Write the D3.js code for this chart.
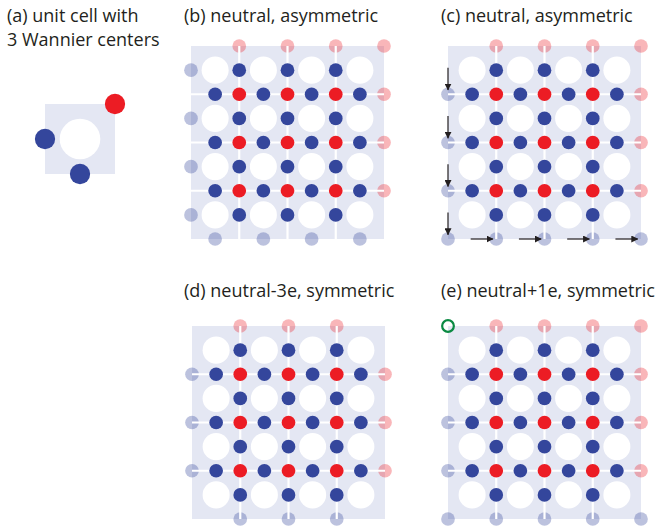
<!DOCTYPE html>
<html>
<head>
    <title>Wannier centers</title>
    <script src="https://d3js.org/d3.v7.min.js"></script>
    <style>
        body { margin: 0; background: #fff; }
        svg text { font-family: "Open Sans", sans-serif; font-size: 18px; fill: #231f20; }
    </style>
</head>
<body>
    <div id="chart"></div>
    <script>
        const width = 661, height = 527;

        // lattice data, in cell units (x to the right, y downward)
        const cells = [0, 1, 2, 3];
        const inner = [1, 2, 3];
        // unit cell of panel (a): red on top-right corner, blue on left and bottom edges
        const unitRed = [[1, 0]];
        const unitBlue = [[0, 0.5], [0.5, 1]];

        const panels = [
            { id: "b", title: "(b) neutral, asymmetric", x: 191, y: 46, tx: 184, ty: 22,
              faintRed: [[1,0],[2,0],[3,0],[4,0],[4,1],[4,2],[4,3]],
              faintBlue: [[0,0.5],[0,1.5],[0,2.5],[0,3.5],[0.5,4],[1.5,4],[2.5,4],[3.5,4]],
              arrows: [], holes: [] },
            { id: "c", title: "(c) neutral, asymmetric", x: 448, y: 46, tx: 441, ty: 22,
              faintRed: [[1,0],[2,0],[3,0],[4,0],[4,1],[4,2],[4,3]],
              faintBlue: [[0,1],[0,2],[0,3],[0,4],[1,4],[2,4],[3,4],[4,4]],
              arrows: [[0,0.45,0,0.91],[0,1.45,0,1.91],[0,2.45,0,2.91],[0,3.45,0,3.91],
                       [0.47,4,0.93,4],[1.47,4,1.93,4],[2.47,4,2.93,4],[3.47,4,3.93,4]],
              holes: [] },
            { id: "d", title: "(d) neutral-3e, symmetric", x: 192, y: 326, tx: 184, ty: 297,
              faintRed: [[1,0],[2,0],[3,0],[4,1],[4,2],[4,3]],
              faintBlue: [[0,1],[0,2],[0,3],[1,4],[2,4],[3,4]],
              arrows: [], holes: [] },
            { id: "e", title: "(e) neutral+1e, symmetric", x: 448, y: 326, tx: 441, ty: 297,
              faintRed: [[1,0],[2,0],[3,0],[4,0],[4,1],[4,2],[4,3]],
              faintBlue: [[0,1],[0,2],[0,3],[0,4],[1,4],[2,4],[3,4],[4,4]],
              arrows: [], holes: [[0,0]] }
        ];

        const size = 193;
        const blue = "#34469c", red = "#ec1c24", bg = "#e4e7f3";

        const svg = d3.select("#chart").append("svg")
            .attr("width", width).attr("height", height);

        svg.append("defs").append("marker")
            .attr("id", "arrow").attr("viewBox", "0 0 10 10")
            .attr("refX", 9).attr("refY", 5)
            .attr("markerWidth", 7).attr("markerHeight", 7)
            .attr("markerUnits", "userSpaceOnUse")
            .attr("orient", "auto")
            .append("path").attr("d", "M0,0 L10,5 L0,10 z").attr("fill", "#231f20");

        // panel (a)
        const a = svg.append("g");
        a.append("text").attr("x", 7).attr("y", 22).text("(a) unit cell with");
        a.append("text").attr("x", 7).attr("y", 46).text("3 Wannier centers");
        const ax = d3.scaleLinear().domain([0, 1]).range([45, 115]);
        const ay = d3.scaleLinear().domain([0, 1]).range([104, 174]);
        const ua = 70;
        a.append("rect").attr("x", ax(0)).attr("y", ay(0))
            .attr("width", ax(1) - ax(0)).attr("height", ay(1) - ay(0)).attr("fill", bg);
        a.append("circle").attr("cx", ax(0.5)).attr("cy", ay(0.5)).attr("r", 0.29 * ua).attr("fill", "#fff");
        a.selectAll(".r").data(unitRed).join("circle")
            .attr("cx", d => ax(d[0])).attr("cy", d => ay(d[1])).attr("r", 0.145 * ua).attr("fill", red);
        a.selectAll(".b").data(unitBlue).join("circle")
            .attr("cx", d => ax(d[0])).attr("cy", d => ay(d[1])).attr("r", 0.145 * ua).attr("fill", blue);

        panels.forEach(p => {
            const g = svg.append("g").attr("class", "panel-" + p.id);
            const x = d3.scaleLinear().domain([0, 4]).range([p.x, p.x + size]);
            const y = d3.scaleLinear().domain([0, 4]).range([p.y, p.y + size]);
            const u = size / 4;
            const dotR = 0.142 * u, holeR = 0.28 * u;

            g.append("text").attr("x", p.tx).attr("y", p.ty).text(p.title);

            g.append("rect").attr("x", x(0)).attr("y", y(0))
                .attr("width", size).attr("height", size).attr("fill", bg);

            g.selectAll(".fr").data(p.faintRed).join("circle")
                .attr("cx", d => x(d[0])).attr("cy", d => y(d[1])).attr("r", dotR)
                .attr("fill", red).attr("fill-opacity", 0.32);
            g.selectAll(".fb").data(p.faintBlue).join("circle")
                .attr("cx", d => x(d[0])).attr("cy", d => y(d[1])).attr("r", dotR)
                .attr("fill", blue).attr("fill-opacity", 0.33);

            // white cell boundaries
            g.selectAll(".vl").data(inner).join("line")
                .attr("x1", d => x(d)).attr("x2", d => x(d))
                .attr("y1", y(0)).attr("y2", y(4))
                .attr("stroke", "#fff").attr("stroke-width", 2.2);
            g.selectAll(".hl").data(inner).join("line")
                .attr("y1", d => y(d)).attr("y2", d => y(d))
                .attr("x1", x(0)).attr("x2", x(4))
                .attr("stroke", "#fff").attr("stroke-width", 2.2);

            // white holes at cell centres
            const centres = d3.cross(cells, cells);
            g.selectAll(".hole").data(centres).join("circle")
                .attr("cx", d => x(d[0] + 0.5)).attr("cy", d => y(d[1] + 0.5))
                .attr("r", holeR).attr("fill", "#fff");

            // blue on interior vertical edges, blue on interior horizontal edges
            const bv = d3.cross(inner, cells).map(d => [d[0], d[1] + 0.5]);
            const bh = d3.cross(cells, inner).map(d => [d[0] + 0.5, d[1]]);
            g.selectAll(".blue").data(bv.concat(bh)).join("circle")
                .attr("cx", d => x(d[0])).attr("cy", d => y(d[1])).attr("r", dotR)
                .attr("fill", blue);
            g.selectAll(".red").data(d3.cross(inner, inner)).join("circle")
                .attr("cx", d => x(d[0])).attr("cy", d => y(d[1])).attr("r", dotR)
                .attr("fill", red);

            g.selectAll(".arr").data(p.arrows).join("line")
                .attr("x1", d => x(d[0])).attr("y1", d => y(d[1]))
                .attr("x2", d => x(d[2])).attr("y2", d => y(d[3]))
                .attr("stroke", "#231f20").attr("stroke-width", 1.2)
                .attr("marker-end", "url(#arrow)");

            g.selectAll(".hl2").data(p.holes).join("circle")
                .attr("cx", d => x(d[0])).attr("cy", d => y(d[1])).attr("r", dotR - 1)
                .attr("fill", "none").attr("stroke", "#0b8a43").attr("stroke-width", 2.2);
        });
    </script>
</body>
</html>
